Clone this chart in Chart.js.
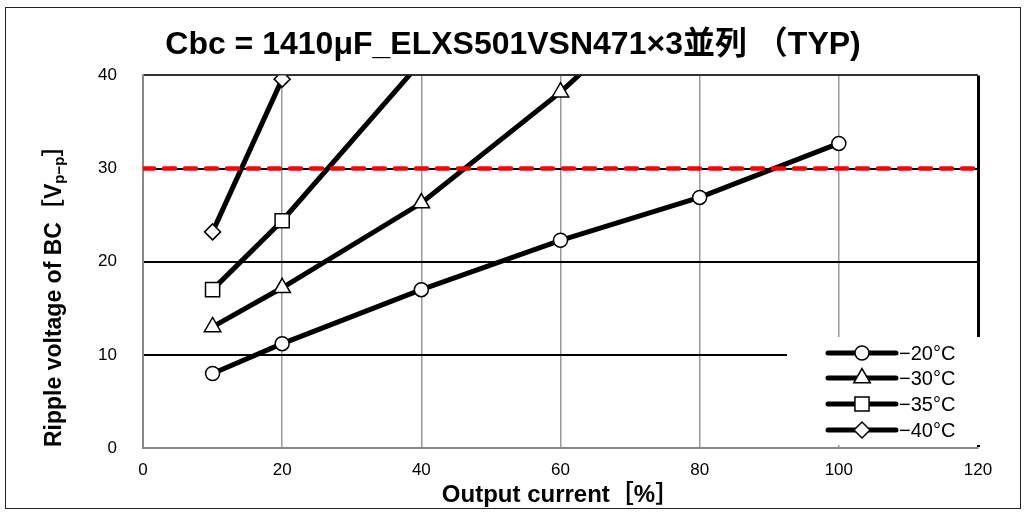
<!DOCTYPE html>
<html>
<head>
<meta charset="utf-8">
<script src="https://cdn.jsdelivr.net/npm/chart.js@4.4.0/dist/chart.umd.min.js"></script>
<style>
  html, body { margin: 0; padding: 0; background: #fff; }
  #wrap { position: relative; width: 1026px; height: 512px; }
  #frame { position: absolute; left: 5px; top: 7px; width: 1016px; height: 502px;
           border: 1.5px solid #222; box-sizing: border-box; pointer-events: none; }
  canvas { position: absolute; left: 0; top: 0; }
</style>
</head>
<body>
<div id="wrap">
  <canvas id="chart" width="1026" height="512"></canvas>
  <div id="frame"></div>
</div>
<script>
// datos
const outputCurrent = [10, 20, 40, 60, 80, 100];          // eje X [%]
const tempLabels    = ['−20°C', '−30°C', '−35°C', '−40°C'];
const ripple20 = [8.0, 11.2, 17.0, 22.3, 26.9, 32.7];
const ripple30 = [13.0, 17.2, 26.3, 38.2, 52.0];
const ripple35 = [17.0, 24.4, 41.5];
const ripple40 = [23.2, 39.6];
const limitX = [0, 120];
const limitY = [30, 30];

const FONT = "'Liberation Sans', 'Noto Sans CJK JP', sans-serif";

function toPoints(xs, ys) {
  return ys.map((v, i) => ({ x: xs[i], y: v }));
}

function series(label, values, style, radius) {
  return {
    label: label,
    data: toPoints(outputCurrent, values),
    borderColor: '#000',
    borderWidth: 5,
    pointStyle: style,
    pointRadius: radius,
    pointBackgroundColor: '#fff',
    pointBorderColor: '#000',
    pointBorderWidth: 1.5,
    order: 1
  };
}

const datasets = [
  series(tempLabels[0], ripple20, 'circle', 7),
  series(tempLabels[1], ripple30, 'triangle', 9.5),
  series(tempLabels[2], ripple35, 'rect', 10),
  series(tempLabels[3], ripple40, 'rectRot', 8),
  {
    label: 'limit',
    data: toPoints(limitX, limitY),
    borderColor: '#ff0000',
    borderWidth: 4.5,
    borderDash: [11, 10],
    borderCapStyle: 'round',
    pointRadius: 0,
    order: 0
  }
];

// leyenda dibujada dentro del área
const legendBox = {
  id: 'legendBox',
  afterDraw(chart) {
    const ctx = chart.ctx;
    ctx.save();
    ctx.fillStyle = '#fff';
    ctx.fillRect(787, 337, 198, 108);
    const rows = [353, 378, 404, 430];
    for (let i = 0; i < 4; i++) {
      const ds = chart.data.datasets[i];
      const y = rows[i];
      ctx.strokeStyle = '#000';
      ctx.lineWidth = 5;
      ctx.lineCap = 'round';
      ctx.setLineDash([]);
      ctx.beginPath();
      ctx.moveTo(828, y);
      ctx.lineTo(896, y);
      ctx.stroke();
      ctx.fillStyle = '#fff';
      ctx.lineWidth = 1.5;
      Chart.helpers.drawPoint(ctx, { pointStyle: ds.pointStyle, radius: ds.pointRadius, rotation: 0, borderWidth: 1.5 }, 862, y);
      ctx.fillStyle = '#000';
      ctx.font = '20px ' + FONT;
      ctx.textAlign = 'left';
      ctx.textBaseline = 'middle';
      ctx.fillText(ds.label, 899, y + 1);
    }
    ctx.restore();
  }
};

// título del eje Y con subíndice
const yTitle = {
  id: 'yTitle',
  afterDraw(chart) {
    const ctx = chart.ctx;
    ctx.save();
    ctx.translate(55, 447);
    ctx.rotate(-Math.PI / 2);
    ctx.fillStyle = '#000';
    ctx.textAlign = 'left';
    ctx.textBaseline = 'middle';
    const parts = [
      ['Ripple voltage of BC［V', 'bold 23px ' + FONT, 0],
      ['p−p', 'bold 15px ' + FONT, 5],
      ['］', 'bold 23px ' + FONT, 0]
    ];
    let x = 0;
    parts.forEach(p => {
      ctx.font = p[1];
      ctx.fillText(p[0], x, p[2]);
      x += ctx.measureText(p[0]).width;
    });
    ctx.restore();
  }
};

new Chart(document.getElementById('chart'), {
  type: 'line',
  data: { datasets: datasets },
  plugins: [legendBox, yTitle],
  options: {
    responsive: false,
    animation: false,
    devicePixelRatio: 1,
    layout: { padding: 0 },
    plugins: {
      legend: { display: false },
      tooltip: { enabled: false },
      title: {
        display: true,
        text: 'Cbc = 1410μF_ELXS501VSN471×3並列 （TYP)',
        color: '#000',
        font: { family: FONT, size: 32, weight: 'bold' },
        padding: { top: 26, bottom: 11 }
      }
    },
    scales: {
      x: {
        type: 'linear',
        min: 0,
        max: 120,
        ticks: { stepSize: 20, color: '#000', font: { family: FONT, size: 17 }, padding: 12 },
        grid: {
          drawTicks: false,
          color: c => c.tick.value === 120 ? '#000' : '#999',
          lineWidth: c => c.tick.value === 120 ? 3 : 1.5
        },
        border: { color: '#888', width: 2 },
        title: {
          display: true,
          text: 'Output current［%］',
          color: '#000',
          font: { family: FONT, size: 24, weight: 'bold' },
          padding: { top: 0, bottom: 2 }
        },
        afterFit: s => { s.height = 64; }
      },
      y: {
        min: 0,
        max: 40,
        ticks: { stepSize: 10, color: '#000', font: { family: FONT, size: 17 }, padding: 26 },
        grid: {
          drawTicks: false,
          color: c => c.tick.value === 0 ? '#888' : (c.tick.value === 40 ? '#333' : '#000'),
          lineWidth: 2
        },
        border: { color: '#888', width: 2 },
        afterFit: s => { s.width = 143; }
      },
      // margen derecho vacío
      yRight: {
        position: 'right',
        min: 0,
        max: 40,
        grid: { display: false, drawTicks: false },
        border: { display: false },
        ticks: { display: false },
        afterFit: s => { s.width = 48; }
      }
    }
  }
});
</script>
</body>
</html>
